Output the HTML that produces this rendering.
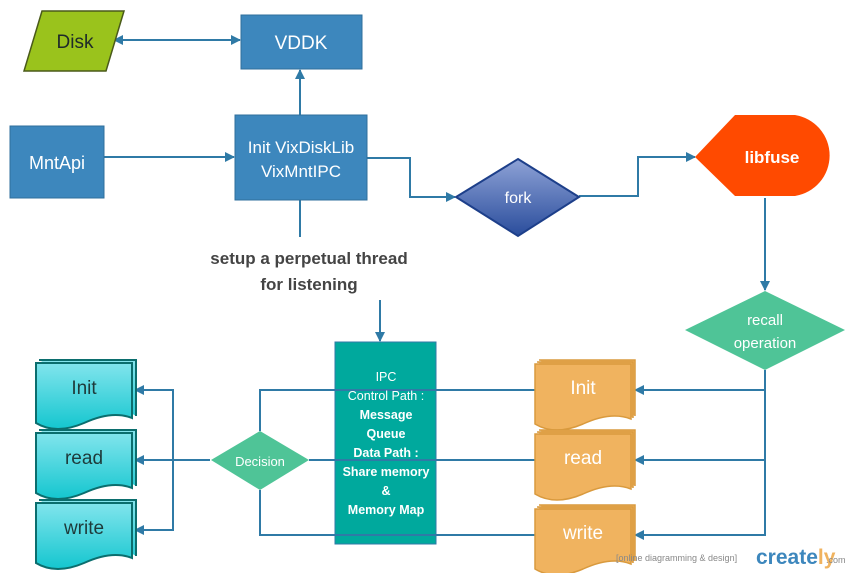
<!DOCTYPE html>
<html><head><style>body{margin:0;background:#fff}svg{display:block}</style></head><body>
<svg width="854" height="573" viewBox="0 0 854 573" xmlns="http://www.w3.org/2000/svg" font-family="Liberation Sans, sans-serif">
<defs>
<marker id="a" markerWidth="10" markerHeight="10" refX="9" refY="5" orient="auto" markerUnits="userSpaceOnUse"><path d="M0,0 L10,5 L0,10 z" fill="#2f7aa6"/></marker>
<marker id="b" markerWidth="10" markerHeight="10" refX="1" refY="5" orient="auto" markerUnits="userSpaceOnUse"><path d="M10,0 L0,5 L10,10 z" fill="#2f7aa6"/></marker>
<linearGradient id="fg" x1="0" y1="0" x2="0" y2="1"><stop offset="0" stop-color="#8ea2d6"/><stop offset="1" stop-color="#2a4d9c"/></linearGradient>
<linearGradient id="cg" x1="0" y1="0" x2="0" y2="1"><stop offset="0" stop-color="#86e6ee"/><stop offset="1" stop-color="#14c6cf"/></linearGradient>
<g id="cdoc"><path d="M3,-3 h97 v56 M0,0 h96 v55 q-20,-8 -48,5 q-28,12 -48,0 z" fill="url(#cg)" stroke="#0b6e6e" stroke-width="2"/></g>
<g id="odoc"><path d="M4,-4 h96 v56" fill="#f0b35f" stroke="#d99a3e" stroke-width="1.5"/><path d="M2,-2 h96 v56" fill="#f0b35f" stroke="#d99a3e" stroke-width="1.5"/><path d="M0,0 h96 v55 q-20,-8 -48,5 q-28,12 -48,0 z" fill="#f0b35f" stroke="#d99a3e" stroke-width="1.5"/></g>
</defs>
<rect x="335" y="342" width="101" height="202" fill="#00a99d" stroke="#2f7aa6" stroke-width="1"/>
<g stroke="#2f7aa6" stroke-width="2" fill="none">
<line x1="114" y1="40" x2="240" y2="40" marker-start="url(#b)" marker-end="url(#a)"/>
<line x1="300" y1="115" x2="300" y2="70" marker-end="url(#a)"/>
<line x1="104" y1="157" x2="234" y2="157" marker-end="url(#a)"/>
<polyline points="367,158 410,158 410,197 455,197" marker-end="url(#a)"/>
<polyline points="579,196 638,196 638,157 695,157" marker-end="url(#a)"/>
<line x1="765" y1="198" x2="765" y2="290" marker-end="url(#a)"/>
<polyline points="765,370 765,535 635,535" marker-end="url(#a)"/>
<line x1="765" y1="390" x2="635" y2="390" marker-end="url(#a)"/>
<line x1="765" y1="460" x2="635" y2="460" marker-end="url(#a)"/>
<line x1="300" y1="200" x2="300" y2="237"/>
<line x1="380" y1="300" x2="380" y2="341" marker-end="url(#a)"/>
<polyline points="260,431 260,390 535,390"/>
<line x1="309" y1="460" x2="535" y2="460"/>
<polyline points="260,490 260,535 535,535"/>
<line x1="210" y1="460" x2="135" y2="460" marker-end="url(#a)"/>
<polyline points="173,460 173,390 135,390" marker-end="url(#a)"/>
<polyline points="173,460 173,530 135,530" marker-end="url(#a)"/>
</g>
<path d="M42,11 L124,11 L106,71 L24,71 z" fill="#9ac31c" stroke="#4a5a1a" stroke-width="1.5"/>
<text x="75" y="48" font-size="19" fill="#1e2a2a" text-anchor="middle">Disk</text>
<rect x="241" y="15" width="121" height="54" fill="#3d87bd" stroke="#2f6f9c"/>
<text x="301" y="49" font-size="19" fill="#fff" text-anchor="middle">VDDK</text>
<rect x="10" y="126" width="94" height="72" fill="#3d87bd" stroke="#2f6f9c"/>
<text x="57" y="169" font-size="18" fill="#fff" text-anchor="middle">MntApi</text>
<rect x="235" y="115" width="132" height="85" fill="#3d87bd" stroke="#2f6f9c"/>
<text x="301" y="153" font-size="17" fill="#fff" text-anchor="middle">Init VixDiskLib</text>
<text x="301" y="177" font-size="17" fill="#fff" text-anchor="middle">VixMntIPC</text>
<path d="M518,159 L579,197 L518,236 L456,197 z" fill="url(#fg)" stroke="#1d3f8a" stroke-width="2"/>
<text x="518" y="203" font-size="16" fill="#fff" text-anchor="middle">fork</text>
<path d="M695,157 L735,115 L795,115 A41,41 0 0 1 795,196 L735,196 z" fill="#ff4a00"/>
<text x="772" y="163" font-size="17" font-weight="bold" fill="#fff" text-anchor="middle">libfuse</text>
<path d="M765,291 L845,330 L765,370 L685,330 z" fill="#4fc497"/>
<text x="765" y="325" font-size="15" fill="#fff" text-anchor="middle">recall</text>
<text x="765" y="348" font-size="15" fill="#fff" text-anchor="middle">operation</text>
<text x="309" y="264" font-size="17" font-weight="bold" fill="#444" text-anchor="middle">setup a perpetual thread</text>
<text x="309" y="290" font-size="17" font-weight="bold" fill="#444" text-anchor="middle">for listening</text>
<g font-size="12.5" fill="#fff" text-anchor="middle" font-weight="bold">
<text x="386" y="381" font-weight="normal">IPC</text>
<text x="386" y="400" font-weight="normal">Control Path :</text>
<text x="386" y="419">Message</text>
<text x="386" y="438">Queue</text>
<text x="386" y="457">Data Path :</text>
<text x="386" y="476">Share memory</text>
<text x="386" y="495">&amp;</text>
<text x="386" y="514">Memory Map</text>
</g>
<path d="M260,431 L309,460 L260,490 L211,460 z" fill="#4fc497"/>
<text x="260" y="466" font-size="13" fill="#fff" text-anchor="middle">Decision</text>
<use href="#cdoc" x="36" y="363"/><text x="84" y="394" font-size="19" fill="#1e3a3a" text-anchor="middle">Init</text>
<use href="#cdoc" x="36" y="433"/><text x="84" y="464" font-size="19" fill="#1e3a3a" text-anchor="middle">read</text>
<use href="#cdoc" x="36" y="503"/><text x="84" y="534" font-size="19" fill="#1e3a3a" text-anchor="middle">write</text>
<use href="#odoc" x="535" y="364"/><text x="583" y="394" font-size="19" fill="#fff" text-anchor="middle">Init</text>
<use href="#odoc" x="535" y="434"/><text x="583" y="464" font-size="19" fill="#fff" text-anchor="middle">read</text>
<use href="#odoc" x="535" y="509"/><text x="583" y="539" font-size="19" fill="#fff" text-anchor="middle">write</text>
<text x="616" y="561" font-size="9" fill="#888">[online diagramming &amp; design]</text>
<text x="756" y="564" font-size="21" font-weight="bold" fill="#3d87bd">create<tspan fill="#f0b35f">ly</tspan></text>
<text x="826" y="563" font-size="9" fill="#888">.com</text>
</svg>
</body></html>
